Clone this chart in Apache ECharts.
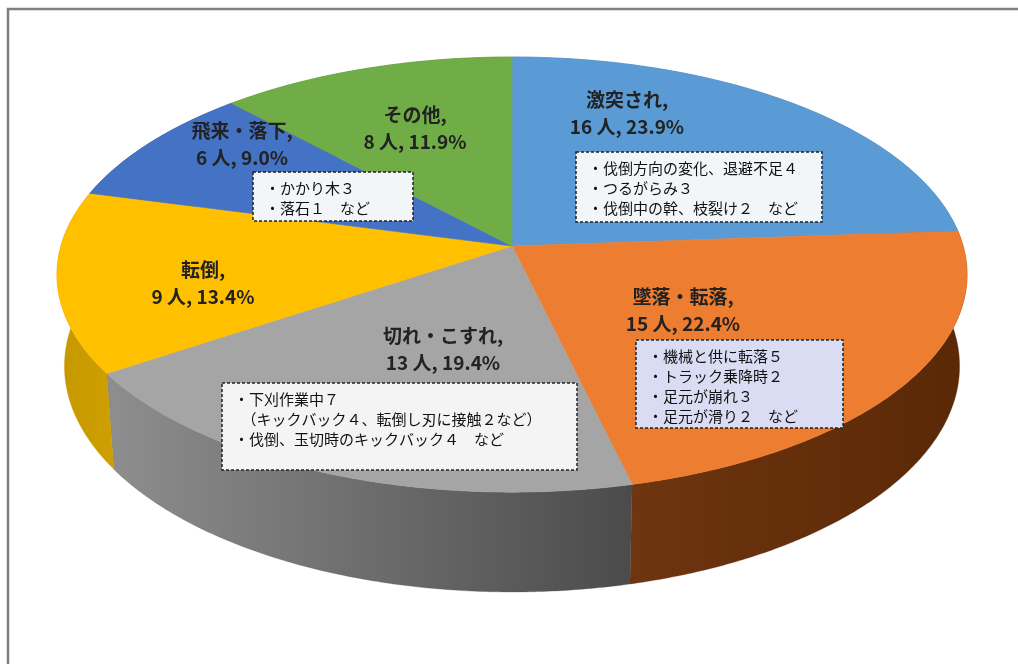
<!DOCTYPE html>
<html><head><meta charset="utf-8">
<script src="https://cdn.jsdelivr.net/npm/echarts@6/dist/echarts.min.js"></script>
<style>html,body{margin:0;padding:0;background:#fff}#c{width:1018px;height:664px}</style>
</head><body><div id="c"></div>
<script>
// ---- data ----
const categories = ['激突され', '墜落・転落', '切れ・こすれ', '転倒', '飛来・落下', 'その他'];
const values = [16, 15, 13, 9, 6, 8];
const unit = '人';
const noteLines = [
  ['・伐倒方向の変化、退避不足４', '・つるがらみ３', '・伐倒中の幹、枝裂け２　など'],
  ['・機械と供に転落５', '・トラック乗降時２', '・足元が崩れ３', '・足元が滑り２　など'],
  ['・下刈作業中７', '　（キックバック４、転倒し刃に接触２など）', '・伐倒、玉切時のキックバック４　など'],
  [],
  ['・かかり木３', '・落石１　など'],
  []
];

// ---- style / layout ----
const topColors = ['#5B9BD5', '#ED7D31', '#A5A5A5', '#FFC000', '#4472C4', '#70AD47'];
const sideColors = [
  ['#3f78ad', '#2f6292'], ['#6e3510', '#5a2806'], ['#8e8e8e', '#4b4b4b'],
  ['#c49800', '#cf9f00'], ['#2f5597', '#2a4c88'], ['#4f7d31', '#456d2b']
];
const labelPos = [[627, 113], [683, 310], [443, 349], [203, 283], [242, 144], [415, 128]];
const noteBox = [[576, 152, 246, 70], [636, 340, 207, 88], [222, 383, 355, 87], null, [253, 172, 160, 49], null];
const noteBg = ['#f3f6f9', '#d9dcf2', '#f4f4f4', null, '#f3f6f9', null];

const CX = 512, CY = 246;
const K = 3027, A = 6.71, S = 0.474, C = 0.881, H = 0.2325;
function proj(a, Y, r) {
  const x = r * Math.sin(a), z = -r * Math.cos(a);
  const depth = A - (Y * S + z * C);
  return [CX + K * x / depth, CY + K * (z * S - Y * C) / depth];
}

const total = values.reduce((s, v) => s + v, 0);
const starts = [];
(function () { let acc = 0; values.forEach(v => { starts.push(acc / total * 2 * Math.PI); acc += v; }); })();

function renderItem(params, api) {
  const i = params.dataIndex;
  const v = api.value(0);
  const a0 = starts[i], a1 = a0 + v / total * 2 * Math.PI;
  const n = Math.max(2, Math.ceil((a1 - a0) / (Math.PI / 360)));
  const topRim = [], botRim = [];
  for (let k = 0; k <= n; k++) {
    const a = a0 + (a1 - a0) * k / n;
    topRim.push(proj(a, 0, 1));
    botRim.push(proj(a, -H, 1));
  }
  const topPts = [proj(0, 0, 0)].concat(topRim);
  const sidePts = topRim.concat(botRim.slice().reverse());
  return {
    type: 'group',
    children: [
      { type: 'polygon', z2: 1, shape: { points: sidePts },
        style: { fill: new echarts.graphic.LinearGradient(0, 0, 1, 0, [
          { offset: 0, color: sideColors[i][0] }, { offset: 1, color: sideColors[i][1] }]),
          stroke: sideColors[i][1], lineWidth: 0.3 } },
      { type: 'polygon', z2: 10, shape: { points: topPts },
        style: { fill: topColors[i], stroke: topColors[i], lineWidth: 0.6 } }
    ]
  };
}

const graphics = [
  { type: 'rect', z: -10, shape: { x: 8, y: 9, width: 1040, height: 700 },
    style: { fill: '#fff', stroke: '#7f7f7f', lineWidth: 2.5 } }
];
categories.forEach((name, i) => {
  const pct = (values[i] / total * 100).toFixed(1);
  graphics.push({
    type: 'text', z: 20,
    style: {
      text: name + ',\n' + values[i] + ' ' + unit + ', ' + pct + '%',
      x: labelPos[i][0], y: labelPos[i][1], align: 'center', verticalAlign: 'middle',
      font: 'bold 19px "Noto Sans CJK JP"', fill: '#222', lineHeight: 27
    }
  });
  const b = noteBox[i];
  if (b) {
    graphics.push({
      type: 'rect', z: 20, shape: { x: b[0], y: b[1], width: b[2], height: b[3] },
      style: { fill: noteBg[i], stroke: '#222', lineWidth: 1.5, lineDash: [3, 2] }
    });
    graphics.push({
      type: 'text', z: 21,
      style: {
        text: noteLines[i].join('\n'), x: b[0] + 12, y: b[1] + 6,
        align: 'left', verticalAlign: 'top',
        font: '15px "Noto Sans CJK JP"', fill: '#111', lineHeight: 20
      }
    });
  }
});

const chart = echarts.init(document.getElementById('c'));
chart.setOption({
  animation: false,
  backgroundColor: '#fff',
  graphic: graphics,
  series: [{
    type: 'custom',
    coordinateSystem: 'none',
    silent: true,
    renderItem: renderItem,
    data: values.map((v, i) => ({ name: categories[i], value: [v] }))
  }]
});
</script></body></html>
